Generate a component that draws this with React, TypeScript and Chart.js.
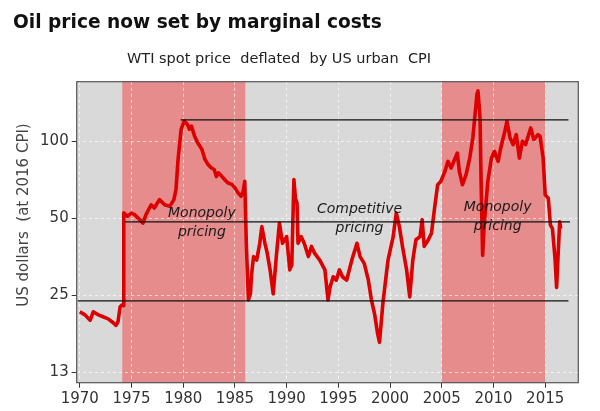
import React, { useEffect, useRef } from "react";
import { Chart, registerables } from "chart.js";

Chart.register(...registerables);

// ---- data ----
const years = [
  1970.0, 1970.5, 1971.0, 1971.3, 1971.8, 1972.3, 1972.7, 1973.2, 1973.5, 1973.7, 1973.9, 1974.1, 1974.2,
  1974.25, 1974.6, 1975.0, 1975.3, 1975.8, 1976.1, 1976.4, 1976.9, 1977.2, 1977.7, 1978.2, 1978.7, 1979.1,
  1979.3, 1979.5, 1979.8, 1980.1, 1980.4, 1980.6, 1980.8, 1981.1, 1981.4, 1981.8, 1982.1, 1982.4, 1982.7,
  1983.0, 1983.2, 1983.4, 1983.7, 1984.0, 1984.3, 1984.7, 1985.0, 1985.3, 1985.6, 1985.8, 1985.95, 1986.1,
  1986.3, 1986.5, 1986.6, 1986.8, 1987.1, 1987.4, 1987.6, 1987.9, 1988.1, 1988.4, 1988.7, 1989.0, 1989.3,
  1989.6, 1990.0, 1990.3, 1990.5, 1990.7, 1990.85, 1991.0, 1991.1, 1991.4, 1991.7, 1992.1, 1992.4, 1992.7,
  1993.2, 1993.7, 1994.0, 1994.2, 1994.5, 1994.8, 1995.1, 1995.4, 1995.8, 1996.3, 1996.8, 1997.1, 1997.5,
  1997.9, 1998.2, 1998.5, 1998.8, 1998.98, 1999.3, 1999.8, 2000.3, 2000.6, 2000.9, 2001.2, 2001.6, 2001.9,
  2002.2, 2002.5, 2002.9, 2003.1, 2003.3, 2003.7, 2004.0, 2004.3, 2004.6, 2004.9, 2005.3, 2005.6, 2005.9,
  2006.5, 2006.7, 2007.0, 2007.35, 2007.7, 2008.0, 2008.4, 2008.5, 2008.7, 2008.8, 2008.95, 2009.1, 2009.45,
  2009.8, 2010.1, 2010.45, 2010.7, 2011.1, 2011.3, 2011.6, 2011.9, 2012.2, 2012.5, 2012.8, 2013.1, 2013.6,
  2013.9, 2014.3, 2014.5, 2014.8, 2015.0, 2015.3, 2015.5, 2015.7, 2015.95, 2016.1, 2016.4, 2016.5,
];
const prices = [
  21.6, 21.0, 20.0, 21.6, 21.0, 20.6, 20.3, 19.6, 19.1, 19.8, 22.6, 23.0, 22.8,
  52.6, 51.0, 52.5, 51.8, 49.5, 48.0, 51.8, 56.6, 55.0, 59.3, 56.6, 55.8, 59.3,
  65.0, 85.2, 111.8, 120.5, 117.0, 111.8, 115.0, 105.0, 99.0, 93.3, 85.2, 81.4, 79.0,
  77.8, 73.0, 75.5, 73.3, 71.1, 69.0, 68.0, 65.9, 63.0, 61.1, 64.0, 70.0, 40.0,
  24.0, 25.4, 30.0, 35.5, 34.4, 40.0, 46.5, 40.0, 37.0, 31.5, 25.4, 35.5, 48.0,
  40.0, 42.5, 31.5, 33.0, 71.1, 60.0, 57.6, 40.0, 42.5, 40.0, 35.5, 38.9, 36.6,
  34.4, 31.5, 24.0, 27.0, 29.6, 28.7, 31.5, 29.6, 28.7, 34.4, 40.0, 35.5, 33.4,
  28.7, 24.0, 21.2, 17.7, 16.4, 23.2, 34.4, 42.5, 52.6, 46.5, 38.9, 31.5, 24.7,
  34.4, 41.3, 42.5, 49.5, 38.9, 41.3, 43.8, 54.8, 67.8, 69.8, 76.4, 83.7, 78.8,
  90.2, 76.4, 67.8, 74.2, 86.2, 103.3, 153.0, 157.8, 123.8, 69.8, 35.9, 47.2, 69.8,
  86.2, 91.6, 83.7, 94.4, 109.8, 120.0, 103.3, 97.3, 106.5, 86.2, 100.3, 97.3, 113.1,
  101.8, 106.5, 105.0, 86.2, 61.9, 60.0, 47.2, 45.7, 34.9, 26.9, 48.6, 45.7,
];

const xTickYears = [1970, 1975, 1980, 1985, 1990, 1995, 2000, 2005, 2010, 2015];
const yTickValues = [12.5, 25, 50, 100];
const yTickLabels = ["13", "25", "50", "100"];

// horizontal price-level lines
const levelValues = [121.5, 48.5, 23.8];
const levelStarts = [1979.75, 1974.35, 1969.8];
const levelEnds = [2017.25, 2017.4, 2017.25];

// pricing regimes (shaded)
const regimeStarts = [1974.1, 2005.0];
const regimeEnds = [1986.0, 2015.0];

// regime labels
const labelLines = [
  ["Monopoly", "pricing"],
  ["Competitive", "pricing"],
  ["Monopoly", "pricing"],
];
const labelYears = [1981.8, 1997.05, 2010.4];
const labelValues = [52.5, 54.2, 55.2];

const X_MIN = 1969.7;
const X_MAX = 2018.2;
const Y_MIN = 11.4;
const Y_MAX = 171.5;

const GREY = "#d9d9d9";
const PINK = "#e68c8c";
const RED = "#dd0000";
const FONT = '"DejaVu Sans", sans-serif';

const decorPlugin = {
  id: "decor",
  beforeDraw(chart: any) {
    const { ctx, chartArea: a, scales } = chart;
    ctx.save();
    ctx.fillStyle = "#ffffff";
    ctx.fillRect(0, 0, chart.width, chart.height);
    ctx.fillStyle = GREY;
    ctx.fillRect(a.left, a.top, a.right - a.left, a.bottom - a.top);
    ctx.fillStyle = PINK;
    regimeStarts.forEach((s, i) => {
      const x0 = scales.x.getPixelForValue(s);
      const x1 = scales.x.getPixelForValue(regimeEnds[i]);
      ctx.fillRect(x0, a.top, x1 - x0, a.bottom - a.top);
    });
    ctx.restore();
  },
  afterDraw(chart: any) {
    const { ctx, chartArea: a, scales } = chart;
    ctx.save();
    // regime labels
    ctx.fillStyle = "#1a1a1a";
    ctx.font = `italic 14px ${FONT}`;
    ctx.textAlign = "center";
    ctx.textBaseline = "middle";
    labelLines.forEach((lines, i) => {
      const cx = scales.x.getPixelForValue(labelYears[i]);
      const cy = scales.y.getPixelForValue(labelValues[i]);
      lines.forEach((t, j) => ctx.fillText(t, cx, cy + j * 19));
    });
    // frame
    ctx.strokeStyle = "#555";
    ctx.lineWidth = 1.2;
    ctx.strokeRect(a.left, a.top, a.right - a.left, a.bottom - a.top);
    // title
    ctx.textAlign = "left";
    ctx.textBaseline = "alphabetic";
    ctx.fillStyle = "#111";
    ctx.font = `bold 18.6px ${FONT}`;
    ctx.fillText("Oil price now set by marginal costs", 13, 28);
    // subtitle
    ctx.textAlign = "center";
    ctx.fillStyle = "#222";
    ctx.font = `14.5px ${FONT}`;
    ctx.fillText("WTI spot price  deflated  by US urban  CPI", 279, 63);
    // y title
    ctx.translate(24, 215);
    ctx.rotate(-Math.PI / 2);
    ctx.textBaseline = "middle";
    ctx.fillStyle = "#444";
    ctx.font = `15px ${FONT}`;
    ctx.fillText("US dollars  (at 2016 CPI)", 0, 0);
    ctx.restore();
  },
};

const gridOpts = {
  color: "rgba(255,255,255,0.65)",
  lineWidth: 1,
  drawTicks: true,
  tickLength: 5,
  tickColor: "#333",
  tickWidth: 1,
  tickBorderDash: [],
};

export default function App() {
  const ref = useRef<HTMLCanvasElement | null>(null);
  useEffect(() => {
    if (!ref.current) return;
    const priceData = years.map((y, i) => ({ x: y, y: prices[i] }));
    const levelSets = levelValues.map((v, i) => ({
      data: [
        { x: levelStarts[i], y: v },
        { x: levelEnds[i], y: v },
      ],
      borderColor: "#111",
      borderWidth: 1.3,
      pointRadius: 0,
      order: 0,
    }));
    const chart = new Chart(ref.current, {
      type: "line",
      data: {
        datasets: [
          ...levelSets,
          {
            data: priceData,
            borderColor: RED,
            borderWidth: 3.6,
            pointRadius: 0,
            tension: 0,
            borderJoinStyle: "round",
            order: 1,
          },
        ],
      },
      options: {
        responsive: false,
        animation: false,
        devicePixelRatio: 1,
        parsing: false as any,
        layout: { padding: { top: 81.7, right: 21.7, left: 0, bottom: 0 } },
        plugins: {
          legend: { display: false },
          tooltip: { enabled: false },
          title: { display: false },
        },
        scales: {
          x: {
            type: "linear",
            min: X_MIN,
            max: X_MAX,
            afterBuildTicks: (s: any) => {
              s.ticks = xTickYears.map((v) => ({ value: v }));
            },
            afterFit: (s: any) => {
              s.height = 28.3;
            },
            ticks: {
              autoSkip: false,
              maxRotation: 0,
              padding: 2,
              color: "#333",
              font: { family: FONT, size: 15 },
              callback: (v: any) => String(v),
            },
            grid: gridOpts as any,
            border: { display: false, dash: [3, 3] },
          },
          y: {
            type: "logarithmic",
            min: Y_MIN,
            max: Y_MAX,
            afterBuildTicks: (s: any) => {
              s.ticks = yTickValues.map((v) => ({ value: v }));
            },
            afterFit: (s: any) => {
              s.width = 76.7;
            },
            ticks: {
              autoSkip: false,
              padding: 3,
              color: "#333",
              font: { family: FONT, size: 15 },
              callback: (v: any) => {
                const i = yTickValues.indexOf(Number(v));
                return i >= 0 ? yTickLabels[i] : "";
              },
            },
            grid: gridOpts as any,
            border: { display: false, dash: [3, 3] },
          },
        },
      } as any,
      plugins: [decorPlugin],
    });
    return () => chart.destroy();
  }, []);
  return (
    <div style={{ position: "absolute", left: 0, top: 0, width: 600, height: 411 }}>
      <canvas ref={ref} width={600} height={411} style={{ display: "block", width: 600, height: 411 }} />
    </div>
  );
}
